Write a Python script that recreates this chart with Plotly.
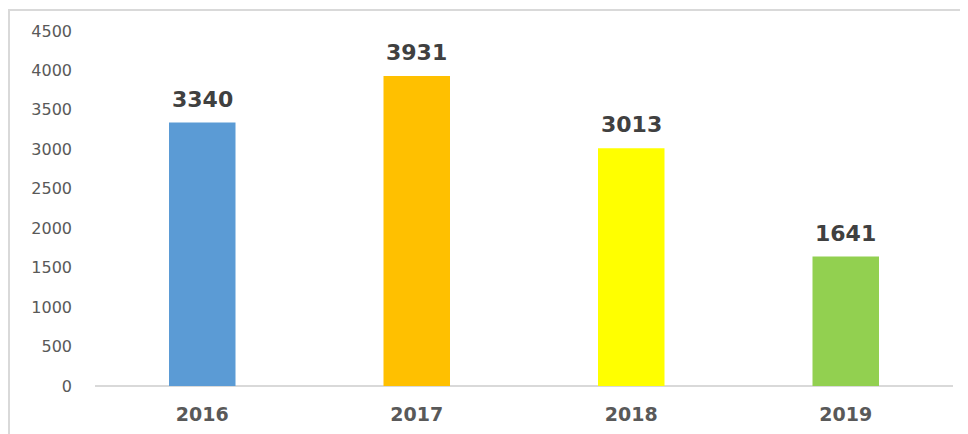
import plotly.graph_objects as go

years = ["2016", "2017", "2018", "2019"]
values = [3340, 3931, 3013, 1641]
colors = ["#5B9BD5", "#FFC000", "#FFFF00", "#92D050"]
y_ticks = [0, 500, 1000, 1500, 2000, 2500, 3000, 3500, 4000, 4500]

# page body has an 8px margin, so the figure is 8px smaller each way
OFF = 8
W, H = 960, 426
L, R, T, B = 87, 15, 23, 48
pw, ph = W - L - R, H - T - B

def px2x(px):
    return (px - OFF - L) / pw

def py2y(py):
    return (H - B - (py - OFF)) / ph

fig = go.Figure()
fig.add_trace(go.Bar(
    x=years, y=values, marker=dict(color=colors, line=dict(width=0)),
    width=0.31, hoverinfo="x+y",
))

for i, v in enumerate(values):
    fig.add_annotation(x=i, y=v, text=f"<b>{v}</b>", showarrow=False,
                       xref="x", yref="y",
                       yanchor="bottom", yshift=9,
                       font=dict(family="DejaVu Sans", size=22, color="#404040"))

# chart area border
fig.add_shape(type="line", xref="paper", yref="paper",
              x0=px2x(8), x1=px2x(968), y0=py2y(10), y1=py2y(10),
              line=dict(color="#D9D9D9", width=2))
fig.add_shape(type="line", xref="paper", yref="paper",
              x0=px2x(9), x1=px2x(9), y0=py2y(10), y1=py2y(440),
              line=dict(color="#D9D9D9", width=2))

fig.update_layout(
    width=W, height=H,
    margin=dict(l=L, r=R, t=T, b=B, pad=0, autoexpand=False),
    paper_bgcolor="white", plot_bgcolor="white",
    showlegend=False,
    xaxis=dict(
        type="category", range=[-0.5, len(years) - 0.5], automargin=False,
        showgrid=False, zeroline=False, showline=False,
        ticks="", tickfont=dict(family="DejaVu Sans", size=19, color="#595959"),
        ticklabelstandoff=15,
        tickprefix="<b>", ticksuffix="</b>",
    ),
    yaxis=dict(
        range=[0, 4500], tickvals=y_ticks, showgrid=False, automargin=False,
        zeroline=True, zerolinecolor="#D9D9D9", zerolinewidth=2,
        showline=False, ticks="",
        tickfont=dict(family="DejaVu Sans", size=16, color="#595959"),
        ticklabelstandoff=22,
    ),
)

fig.write_html("out.html")
